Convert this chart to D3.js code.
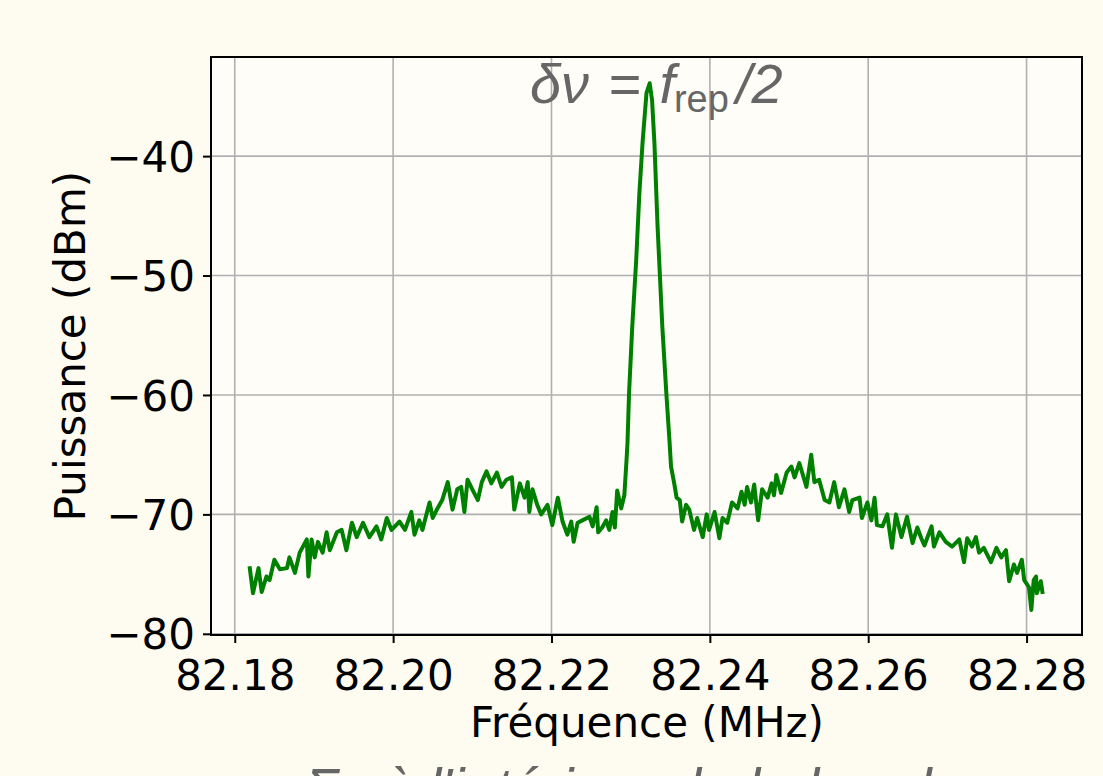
<!DOCTYPE html>
<html>
<head>
<meta charset="utf-8">
<script src="https://cdn.jsdelivr.net/npm/d3@7"></script>
<style>
  html, body { margin: 0; padding: 0; background: #fefcf0; }
  svg { display: block; }
</style>
</head>
<body>
<svg id="chart" width="1103" height="776"></svg>
<script>
// Spectrum around the beat note (MHz vs dBm)
const freqMHz = [
  82.1819, 82.1823, 82.1830, 82.1834, 82.1840, 82.1844, 82.1850, 82.1857, 82.1866, 82.1869,
  82.1876, 82.1882, 82.1891, 82.1893, 82.1897, 82.1901, 82.1905, 82.1911, 82.1916, 82.1920,
  82.1929, 82.1935, 82.1941, 82.1948, 82.1954, 82.1962, 82.1970, 82.1979, 82.1985, 82.1992,
  82.1998, 82.2008, 82.2015, 82.2023, 82.2027, 82.2033, 82.2037, 82.2046, 82.2050, 82.2056,
  82.2062, 82.2069, 82.2075, 82.2081, 82.2086, 82.2090, 82.2094, 82.2100, 82.2107, 82.2112,
  82.2118, 82.2124, 82.2131, 82.2137, 82.2143, 82.2150, 82.2153, 82.2160, 82.2166, 82.2170,
  82.2172, 82.2176, 82.2182, 82.2187, 82.2195, 82.2201, 82.2208, 82.2214, 82.2220, 82.2225,
  82.2228, 82.2233, 82.2239, 82.2248, 82.2252, 82.2257, 82.2259, 82.2264, 82.2269, 82.2273,
  82.2277, 82.2280, 82.2283, 82.2288, 82.2292, 82.2295, 82.2296, 82.2298, 82.2302, 82.2307,
  82.2311, 82.2315, 82.2320, 82.2324, 82.2327, 82.2330, 82.2334, 82.2336, 82.2340, 82.2345,
  82.2349, 82.2351, 82.2355, 82.2358, 82.2362, 82.2365, 82.2370, 82.2374, 82.2380, 82.2384,
  82.2391, 82.2396, 82.2399, 82.2406, 82.2412, 82.2416, 82.2422, 82.2428, 82.2435, 82.2440,
  82.2444, 82.2447, 82.2452, 82.2456, 82.2461, 82.2466, 82.2473, 82.2478, 82.2481, 82.2484,
  82.2490, 82.2497, 82.2503, 82.2507, 82.2513, 82.2522, 82.2528, 82.2532, 82.2538, 82.2545,
  82.2551, 82.2557, 82.2563, 82.2570, 82.2576, 82.2580, 82.2589, 82.2592, 82.2599, 82.2604,
  82.2608, 82.2611, 82.2618, 82.2624, 82.2630, 82.2635, 82.2642, 82.2649, 82.2656, 82.2662,
  82.2667, 82.2671, 82.2680, 82.2683, 82.2690, 82.2698, 82.2706, 82.2715, 82.2721, 82.2725,
  82.2731, 82.2736, 82.2740, 82.2746, 82.2755, 82.2762, 82.2768, 82.2774, 82.2778, 82.2784,
  82.2788, 82.2794, 82.2797, 82.2803, 82.2806, 82.2809, 82.2812, 82.2813, 82.2818, 82.2820
];

const powerDBm = [
  -74.5, -76.6, -74.5, -76.5, -75.2, -75.5, -73.8, -74.6, -74.5, -73.6,
  -74.9, -73.2, -72.1, -75.2, -72.1, -73.6, -72.3, -73.2, -71.5, -73.0,
  -71.5, -71.3, -73.0, -70.7, -71.9, -70.7, -71.9, -71.0, -72.1, -70.3,
  -71.3, -70.6, -71.3, -69.8, -71.7, -70.5, -71.3, -69.0, -70.3, -69.5,
  -68.8, -67.3, -69.6, -67.9, -67.7, -69.8, -67.1, -67.9, -68.8, -67.3,
  -66.4, -67.4, -66.5, -67.7, -67.1, -66.9, -69.6, -67.4, -68.6, -67.3,
  -69.8, -67.9, -69.2, -70.0, -69.2, -70.9, -68.6, -70.6, -71.7, -70.6,
  -72.3, -70.7, -70.5, -70.2, -71.0, -69.4, -71.5, -71.1, -70.5, -71.3,
  -69.8, -71.1, -68.0, -69.5, -68.4, -65.2, -64.0, -59.8, -54.3, -48.7,
  -43.1, -38.9, -34.7, -33.9, -35.3, -38.9, -45.9, -48.7, -54.3, -59.8,
  -63.8, -66.0, -67.4, -68.6, -68.8, -70.6, -69.2, -69.6, -71.3, -70.3,
  -71.9, -70.0, -71.3, -69.8, -72.0, -70.3, -70.7, -69.0, -69.5, -68.1,
  -69.2, -67.7, -69.0, -67.5, -70.5, -67.9, -68.6, -67.4, -68.4, -66.7,
  -68.2, -66.5, -66.0, -66.9, -65.7, -67.7, -65.0, -67.3, -67.1, -68.8,
  -69.0, -67.3, -69.4, -67.9, -69.8, -68.8, -68.6, -70.3, -69.0, -70.5,
  -68.6, -70.9, -71.0, -70.0, -72.8, -70.0, -71.9, -70.2, -72.4, -71.1,
  -72.0, -72.6, -71.0, -72.7, -71.5, -72.3, -72.7, -72.1, -74.0, -72.0,
  -72.7, -71.9, -73.2, -72.8, -74.0, -72.8, -73.6, -73.0, -75.6, -74.2,
  -74.9, -73.8, -75.5, -76.1, -78.0, -75.5, -75.2, -76.6, -75.6, -76.5
];

const xTicks = [82.18, 82.20, 82.22, 82.24, 82.26, 82.28];
const yTicks = [-80, -70, -60, -50, -40];
const xDomain = [82.177, 82.287];
const yDomain = [-80.1, -31.7];

const xLabel = "Fréquence (MHz)";
const yLabel = "Puissance (dBm)";
const footnote = "Σν à l'intérieur de la bande";

const plot = { left: 211, right: 1082, top: 57, bottom: 635 };

const svg = d3.select("#chart");
svg.append("rect").attr("width", 1103).attr("height", 776).attr("fill", "#fefcf0");

const x = d3.scaleLinear().domain(xDomain).range([plot.left, plot.right]);
const y = d3.scaleLinear().domain(yDomain).range([plot.bottom, plot.top]);

// axes background
svg.append("rect")
  .attr("x", plot.left).attr("y", plot.top)
  .attr("width", plot.right - plot.left).attr("height", plot.bottom - plot.top)
  .attr("fill", "#fffdf7");

// grid
const grid = svg.append("g").attr("stroke", "#b0b0b0").attr("stroke-width", 1.6);
grid.selectAll("line.gx").data(xTicks).join("line")
  .attr("x1", d => x(d)).attr("x2", d => x(d))
  .attr("y1", plot.top).attr("y2", plot.bottom);
grid.selectAll("line.gy").data(yTicks).join("line")
  .attr("x1", plot.left).attr("x2", plot.right)
  .attr("y1", d => y(d)).attr("y2", d => y(d));

// spectrum trace
const pts = freqMHz.map((f, i) => [f, powerDBm[i]]);
svg.append("path")
  .datum(pts)
  .attr("fill", "none")
  .attr("stroke", "#008000")
  .attr("stroke-width", 4)
  .attr("stroke-linejoin", "round")
  .attr("stroke-linecap", "square")
  .attr("d", d3.line().x(d => x(d[0])).y(d => y(d[1])));

// frame
svg.append("rect")
  .attr("x", plot.left).attr("y", plot.top)
  .attr("width", plot.right - plot.left).attr("height", plot.bottom - plot.top)
  .attr("fill", "none").attr("stroke", "#000").attr("stroke-width", 2);

// axes
const fontAxis = "'DejaVu Sans', sans-serif";
const xAxis = d3.axisBottom(x).tickValues(xTicks).tickFormat(d3.format(".2f"))
  .tickSize(8).tickPadding(8);
const yAxis = d3.axisLeft(y).tickValues(yTicks).tickFormat(d3.format("d"))
  .tickSize(8).tickPadding(8);

const gx = svg.append("g").attr("transform", `translate(0,${plot.bottom})`).call(xAxis);
const gy = svg.append("g").attr("transform", `translate(${plot.left},0)`).call(yAxis);
[gx, gy].forEach(g => {
  g.select(".domain").remove();
  g.selectAll(".tick line").attr("stroke", "#000").attr("stroke-width", 2);
  g.selectAll(".tick text")
    .attr("fill", "#000")
    .style("font-family", fontAxis)
    .style("font-size", "42px");
});
gx.selectAll(".tick text").attr("dy", "0.93em");
gy.selectAll(".tick text").attr("dy", "0.36em");

// axis titles
svg.append("text")
  .attr("x", (plot.left + plot.right) / 2 + 0.5).attr("y", 737)
  .attr("text-anchor", "middle")
  .style("font-family", fontAxis).style("font-size", "42px")
  .attr("fill", "#000")
  .text(xLabel);

svg.append("text")
  .attr("transform", `translate(85,${(plot.top + plot.bottom) / 2}) rotate(-90)`)
  .attr("text-anchor", "middle")
  .style("font-family", fontAxis).style("font-size", "42px")
  .attr("fill", "#000")
  .text(yLabel);

// annotation: beat spacing
const mathFont = "'Liberation Sans', Arial, sans-serif";
const ann = svg.append("text")
  .attr("x", 530).attr("y", 103)
  .style("font-family", mathFont)
  .style("font-size", "56px")
  .attr("fill", "#666666");
ann.append("tspan").style("font-style", "italic").text("δν");
ann.append("tspan").attr("dx", 4).text(" =");
ann.append("tspan").attr("dx", 18).style("font-style", "italic").text("f");
ann.append("tspan").attr("dx", -1).attr("dy", 9).style("font-size", "38px").text("rep");
ann.append("tspan").attr("dx", 7).attr("dy", -9).style("font-style", "italic").text("/2");

// footnote (runs past the lower edge)
svg.append("text")
  .attr("x", 305).attr("y", 807)
  .style("font-family", mathFont)
  .style("font-size", "56px")
  .style("font-style", "italic")
  .attr("fill", "#666666")
  .text(footnote);
</script>
</body>
</html>
